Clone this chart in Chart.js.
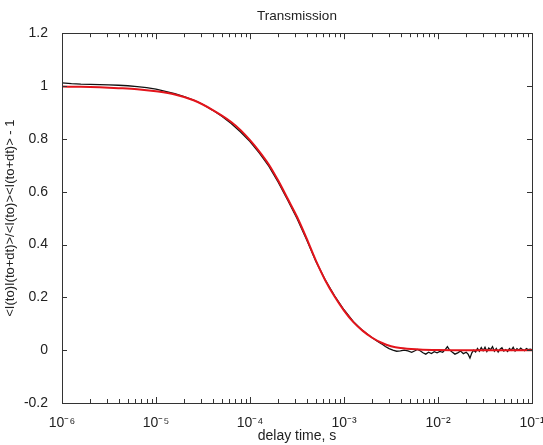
<!DOCTYPE html>
<html lang="en">
<head>
  <meta charset="UTF-8" />
  <title>Transmission</title>
  <script src="https://cdn.jsdelivr.net/npm/chart.js"></script>
  <style>
    body {
      margin: 0;
      background: #fff;
    }
    canvas {
      display: block;
    }
  </style>
</head>
<body>

<canvas id="graficoTransmision" width="543" height="445"></canvas>

<script>
  // Measured correlation (black), log10 of delay time and value
  const medidoLogT = [
    -6.0, -5.9, -5.8, -5.7, -5.6, -5.5, -5.4, -5.3, -5.2, -5.1,
    -5.0, -4.9, -4.8, -4.7, -4.6, -4.5, -4.4, -4.3, -4.2, -4.1,
    -4.0, -3.9, -3.8, -3.7, -3.6, -3.5, -3.4, -3.3, -3.2, -3.1,
    -3.0, -2.9, -2.8, -2.75, -2.7, -2.65, -2.6, -2.56, -2.52, -2.48,
    -2.44, -2.40, -2.36, -2.32, -2.28, -2.25, -2.22, -2.19, -2.16, -2.13,
    -2.10, -2.07, -2.04, -2.01, -1.98, -1.95, -1.92, -1.90, -1.88, -1.85,
    -1.82, -1.79, -1.76, -1.73, -1.70, -1.68, -1.66, -1.64, -1.62, -1.60,
    -1.58, -1.56, -1.54, -1.52, -1.50, -1.48, -1.46, -1.44, -1.42, -1.40,
    -1.38, -1.36, -1.34, -1.32, -1.30, -1.28, -1.26, -1.24, -1.22, -1.20,
    -1.18, -1.16, -1.14, -1.12, -1.10, -1.08, -1.06, -1.04, -1.02, -1.00
  ];
  const medidoG = [
    1.012, 1.009, 1.007, 1.006, 1.005, 1.004, 1.003, 1.001, 0.998, 0.994,
    0.988, 0.980, 0.971, 0.960, 0.947, 0.930, 0.909, 0.886, 0.858, 0.826,
    0.790, 0.746, 0.697, 0.636, 0.569, 0.499, 0.420, 0.337, 0.266, 0.206,
    0.153, 0.108, 0.074, 0.060, 0.047, 0.035, 0.024, 0.014, 0.006, 0.000,
    -0.004, -0.003, 0.000, -0.003, -0.008, -0.003, 0.003, -0.002, -0.010, -0.015,
    -0.008, -0.013, -0.006, -0.010, -0.005, -0.008, 0.004, 0.013, 0.002, -0.007,
    -0.015, -0.010, -0.003, -0.013, -0.008, -0.015, -0.030, -0.010, 0.000, -0.007,
    0.006, -0.004, 0.010, -0.002, 0.011, -0.005, 0.008, 0.002, 0.013, -0.004,
    0.006, -0.007, 0.004, 0.009, -0.003, 0.002, -0.005, 0.006, 0.000, 0.011,
    -0.003, 0.006, 0.000, 0.008, 0.002, -0.002, 0.006, 0.002, 0.004, 0.002
  ];

  // Fitted curve (red)
  const ajusteLogT = [
    -6.0, -5.8, -5.6, -5.4, -5.2, -5.0, -4.8, -4.6, -4.4, -4.2,
    -4.1, -4.0, -3.9, -3.8, -3.7, -3.6, -3.5, -3.4, -3.3, -3.2,
    -3.1, -3.0, -2.9, -2.8, -2.7, -2.6, -2.5, -2.4, -2.2, -2.0,
    -1.5, -1.0
  ];
  const ajusteG = [
    0.998, 0.997, 0.995, 0.992, 0.988, 0.980, 0.968, 0.946, 0.910, 0.864,
    0.833, 0.795, 0.752, 0.703, 0.642, 0.574, 0.505, 0.425, 0.340, 0.265,
    0.203, 0.150, 0.106, 0.073, 0.047, 0.028, 0.015, 0.008, 0.003, 0.001,
    0.000, 0.000
  ];

  // Axis ticks
  const xTicksMayores = [1e-6, 1e-5, 1e-4, 1e-3, 1e-2, 1e-1];
  const xEtiquetas = ['10⁻⁶', '10⁻⁵', '10⁻⁴', '10⁻³', '10⁻²', '10⁻¹'];
  const yTicks = [-0.2, 0, 0.2, 0.4, 0.6, 0.8, 1, 1.2];
  const yEtiquetas = ['-0.2', '0', '0.2', '0.4', '0.6', '0.8', '1', '1.2'];

  const xTicksMenores = [];
  xTicksMayores.slice(0, -1).forEach(d => {
    for (let k = 2; k <= 9; k++) xTicksMenores.push(d * k);
  });

  const aPuntos = (logT, g) => logT.map((e, i) => ({ x: Math.pow(10, e), y: g[i] }));

  const colorEje = '#333';
  const fuente = 'Arial, "Liberation Sans", sans-serif';

  // Box + inward ticks, Matlab style
  const cajaEjes = {
    id: 'cajaEjes',
    afterDraw(chart) {
      const { ctx, chartArea: a, scales } = chart;
      ctx.save();
      ctx.strokeStyle = colorEje;
      ctx.lineWidth = 1;
      ctx.beginPath();
      xTicksMayores.concat(xTicksMenores).forEach(v => {
        const px = Math.round(scales.x.getPixelForValue(v)) + 0.5;
        const len = xTicksMayores.includes(v) ? 6 : 4;
        ctx.moveTo(px, a.bottom); ctx.lineTo(px, a.bottom - len);
        ctx.moveTo(px, a.top); ctx.lineTo(px, a.top + len);
      });
      yTicks.forEach(v => {
        const py = Math.round(scales.y.getPixelForValue(v)) + 0.5;
        ctx.moveTo(a.left, py); ctx.lineTo(a.left + 5, py);
        ctx.moveTo(a.right, py); ctx.lineTo(a.right - 5, py);
      });
      ctx.stroke();
      ctx.strokeRect(Math.round(a.left) + 0.5, Math.round(a.top) + 0.5,
        Math.round(a.right - a.left), Math.round(a.bottom - a.top));
      ctx.restore();
    }
  };

  new Chart(document.getElementById('graficoTransmision').getContext('2d'), {
    type: 'line',
    data: {
      datasets: [
        {
          label: 'Ajuste',
          data: aPuntos(ajusteLogT, ajusteG),
          borderColor: '#e3141b',
          borderWidth: 2,
          pointRadius: 0,
          cubicInterpolationMode: 'monotone'
        },
        {
          label: 'Medido',
          data: aPuntos(medidoLogT, medidoG),
          borderColor: '#111',
          borderWidth: 1.3,
          pointRadius: 0,
          tension: 0
        }
      ]
    },
    options: {
      responsive: false,
      animation: false,
      layout: { padding: { right: 11 } },
      plugins: {
        legend: { display: false },
        tooltip: { enabled: false },
        title: {
          display: true,
          text: 'Transmission',
          fullSize: false,
          color: '#222',
          font: { family: fuente, size: 13.5, weight: 'normal' },
          padding: { top: 8, bottom: 9 }
        }
      },
      scales: {
        x: {
          type: 'logarithmic',
          min: 1e-6,
          max: 1e-1,
          afterBuildTicks: scale => {
            scale.ticks = xTicksMayores.concat(xTicksMenores).sort((a, b) => a - b).map(v => ({ value: v }));
          },
          afterFit: scale => {
            scale.height = 42;
            scale.paddingLeft = 0;
            scale.paddingRight = 0;
          },
          grid: { display: false },
          border: { display: false },
          ticks: {
            autoSkip: false,
            maxRotation: 0,
            minRotation: 0,
            padding: 4,
            color: '#222',
            font: { family: fuente, size: 14 },
            callback: value => {
              const i = xTicksMayores.indexOf(value);
              return i >= 0 ? xEtiquetas[i] : '';
            }
          },
          title: {
            display: true,
            text: 'delay time, s',
            color: '#222',
            font: { family: fuente, size: 14 },
            padding: { top: 0, bottom: 0 }
          }
        },
        y: {
          min: -0.2,
          max: 1.2,
          afterBuildTicks: scale => {
            scale.ticks = yTicks.map(v => ({ value: v }));
          },
          afterFit: scale => { scale.width = 62; },
          grid: { display: false },
          border: { display: false },
          ticks: {
            padding: 6,
            color: '#222',
            font: { family: fuente, size: 14 },
            callback: (value, i) => yEtiquetas[i]
          },
          title: {
            display: true,
            text: '<I(to)I(to+dt)>/<I(to)><I(to+dt)> - 1',
            color: '#222',
            font: { family: fuente, size: 13 },
            padding: { top: 3, bottom: 0 }
          }
        }
      }
    },
    plugins: [cajaEjes]
  });
</script>

</body>
</html>
